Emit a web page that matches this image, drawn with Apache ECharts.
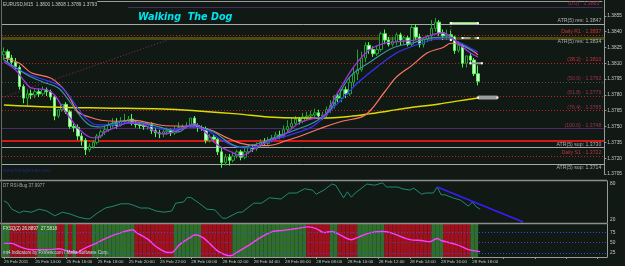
<!DOCTYPE html>
<html><head><meta charset="utf-8">
<script src="https://cdn.jsdelivr.net/npm/echarts@6/dist/echarts.min.js"></script>
<style>html,body{margin:0;padding:0;background:#111915;}#c{width:625px;height:266px;}</style>
</head><body><div id="c"></div>
<script>
// ---------- DATA ----------
const timeLabels = ['25 Feb 2011','25 Feb 14:00','25 Feb 16:00','25 Feb 18:00','25 Feb 20:00','25 Feb 22:00','28 Feb 00:00','28 Feb 02:00','28 Feb 04:00','28 Feb 06:00','28 Feb 08:00','28 Feb 10:00','28 Feb 12:00','28 Feb 14:00','28 Feb 16:00','28 Feb 18:00'];
const barsPerLabel = 8;
const slotCount = 155;

const opens = [
1.3818,1.3821,1.3815,1.3811,1.3806,1.3788,1.3777,1.3781,1.3780,1.3783,
1.3781,1.3785,1.3783,1.3778,1.3760,1.3766,1.3771,1.3764,1.3750,1.3749,
1.3741,1.3737,1.3728,1.3731,1.3735,1.3741,1.3745,1.3747,1.3751,1.3753,
1.3751,1.3755,1.3756,1.3757,1.3753,1.3752,1.3751,1.3750,1.3752,1.3746,
1.3744,1.3743,1.3745,1.3746,1.3744,1.3747,1.3749,1.3750,1.3751,1.3758,
1.3751,1.3749,1.3748,1.3737,1.3740,1.3738,1.3726,1.3716,1.3721,1.3718,
1.3722,1.3726,1.3721,1.3726,1.3730,1.3729,1.3732,1.3735,1.3734,1.3737,
1.3739,1.3742,1.3741,1.3747,1.3750,1.3753,1.3757,1.3755,1.3759,1.3760,
1.3761,1.3763,1.3760,1.3761,1.3766,1.3770,1.3779,1.3777,1.3785,1.3781,
1.3792,1.3800,1.3804,1.3815,1.3827,1.3823,1.3819,1.3823,1.3838,1.3832,
1.3828,1.3831,1.3837,1.3832,1.3834,1.3828,1.3844,1.3835,1.3828,1.3833,
1.3836,1.3843,1.3849,1.3839,1.3836,1.3837,1.3835,1.3822,1.3827,1.3810,
1.3817,1.3813,1.3800];
const highs = [
1.3825,1.3823,1.3818,1.3815,1.3808,1.3790,1.3785,1.3785,1.3786,1.3786,
1.3788,1.3787,1.3785,1.3780,1.3766,1.3771,1.3773,1.3766,1.3753,1.3752,
1.3744,1.3739,1.3734,1.3737,1.3743,1.3747,1.3751,1.3754,1.3758,1.3758,
1.3759,1.3762,1.3760,1.3762,1.3756,1.3754,1.3753,1.3754,1.3754,1.3749,
1.3747,1.3748,1.3749,1.3748,1.3750,1.3754,1.3752,1.3754,1.3758,1.3760,
1.3753,1.3751,1.3750,1.3743,1.3743,1.3739,1.3730,1.3724,1.3724,1.3726,
1.3728,1.3728,1.3730,1.3733,1.3733,1.3735,1.3738,1.3739,1.3740,1.3742,
1.3745,1.3746,1.3751,1.3756,1.3758,1.3760,1.3759,1.3763,1.3764,1.3765,
1.3767,1.3766,1.3764,1.3769,1.3775,1.3780,1.3781,1.3785,1.3788,1.3796,
1.3806,1.3823,1.3821,1.3830,1.3830,1.3826,1.3827,1.3840,1.3842,1.3835,
1.3835,1.3839,1.3839,1.3836,1.3836,1.3846,1.3847,1.3838,1.3835,1.3837,
1.3851,1.3853,1.3851,1.3842,1.3842,1.3841,1.3836,1.3831,1.3829,1.3817,
1.3820,1.3815,1.3808];
const lows = [
1.3813,1.3811,1.3807,1.3804,1.3785,1.3772,1.3769,1.3776,1.3777,1.3778,
1.3779,1.3779,1.3775,1.3756,1.3758,1.3764,1.3762,1.3748,1.3745,1.3737,
1.3732,1.3723,1.3726,1.3729,1.3733,1.3739,1.3742,1.3745,1.3749,1.3748,
1.3750,1.3752,1.3753,1.3751,1.3749,1.3748,1.3747,1.3747,1.3743,1.3740,
1.3739,1.3740,1.3742,1.3741,1.3742,1.3745,1.3747,1.3748,1.3749,1.3751,
1.3745,1.3746,1.3734,1.3735,1.3735,1.3723,1.3711,1.3713,1.3713,1.3716,
1.3720,1.3718,1.3719,1.3724,1.3726,1.3727,1.3730,1.3732,1.3732,1.3735,
1.3737,1.3738,1.3739,1.3745,1.3748,1.3751,1.3752,1.3753,1.3756,1.3757,
1.3757,1.3757,1.3756,1.3758,1.3763,1.3767,1.3773,1.3773,1.3777,1.3779,
1.3788,1.3794,1.3802,1.3811,1.3819,1.3816,1.3817,1.3821,1.3828,1.3826,
1.3826,1.3827,1.3827,1.3828,1.3826,1.3826,1.3832,1.3825,1.3825,1.3830,
1.3831,1.3840,1.3836,1.3832,1.3832,1.3832,1.3819,1.3820,1.3806,1.3806,
1.3809,1.3798,1.3789];
const closes = [
1.3821,1.3815,1.3811,1.3807,1.3788,1.3777,1.3781,1.3780,1.3783,1.3781,
1.3785,1.3783,1.3778,1.3760,1.3766,1.3771,1.3764,1.3750,1.3749,1.3741,
1.3737,1.3728,1.3731,1.3735,1.3741,1.3745,1.3747,1.3751,1.3753,1.3751,
1.3755,1.3756,1.3757,1.3753,1.3752,1.3751,1.3750,1.3752,1.3746,1.3744,
1.3743,1.3745,1.3746,1.3744,1.3747,1.3749,1.3750,1.3751,1.3758,1.3751,
1.3749,1.3748,1.3737,1.3740,1.3738,1.3726,1.3716,1.3721,1.3718,1.3722,
1.3726,1.3721,1.3726,1.3730,1.3729,1.3732,1.3735,1.3734,1.3737,1.3739,
1.3742,1.3741,1.3747,1.3750,1.3753,1.3757,1.3755,1.3759,1.3760,1.3761,
1.3763,1.3760,1.3761,1.3766,1.3770,1.3779,1.3777,1.3785,1.3781,1.3792,
1.3800,1.3804,1.3815,1.3827,1.3823,1.3819,1.3823,1.3838,1.3832,1.3828,
1.3831,1.3837,1.3832,1.3834,1.3828,1.3844,1.3835,1.3828,1.3833,1.3836,
1.3843,1.3849,1.3839,1.3836,1.3837,1.3835,1.3822,1.3827,1.3810,1.3817,
1.3813,1.3800,1.3793];

// moving averages: [bar index, price]
const maYellow = [[0,1.37705],[12,1.37686],[25,1.37676],[41,1.37667],[50,1.37648],[60,1.3762],[68,1.37591],[76,1.37581],[82,1.37581],[89,1.37596],[94,1.3762],[99,1.37648],[104,1.37676],[112,1.37714],[117,1.37743],[122,1.37771]];
const maSalmon = [[0,1.3815],[4,1.3810],[7,1.3801],[12,1.3796],[15,1.3787],[17,1.3777],[19,1.3764],[22,1.3759],[25,1.3756],[29,1.3755],[33,1.3756],[38,1.3753],[41,1.3751],[48,1.3750],[53,1.3747],[57,1.3740],[61,1.3734],[65,1.3732],[68,1.3732],[73,1.3737],[77,1.3742],[82,1.3749],[87,1.3755],[93,1.3761],[98,1.3783],[101,1.3797],[105,1.3808],[109,1.3820],[113,1.3825],[115,1.3829],[118,1.3827],[121,1.3821],[122,1.3818]];
const maBlue = [[0,1.38131],[5,1.38017],[9,1.3796],[14,1.37894],[16,1.37828],[19,1.37676],[21,1.37581],[24,1.37515],[27,1.37515],[32,1.37534],[35,1.37534],[39,1.37487],[43,1.37468],[48,1.37496],[52,1.37468],[56,1.37373],[60,1.37306],[63,1.37297],[66,1.37325],[71,1.37392],[76,1.37449],[80,1.37515],[86,1.37724],[91,1.37913],[96,1.38065],[101,1.38198],[106,1.38273],[110,1.38321],[114,1.3834],[117,1.38302],[120,1.38245],[122,1.38207]];
const maTeal = [[0,1.38131],[6,1.37989],[10,1.37923],[14,1.37866],[17,1.37733],[19,1.37629],[22,1.37515],[25,1.37496],[28,1.37534],[32,1.37553],[37,1.37524],[41,1.37487],[45,1.37449],[48,1.37515],[54,1.37449],[58,1.37344],[61,1.37306],[66,1.37344],[70,1.37401],[75,1.37468],[80,1.37543],[84,1.3766],[89,1.3797],[95,1.38131],[100,1.38245],[105,1.38292],[110,1.3834],[114,1.38349],[117,1.38292],[121,1.38207]];
const maPurple = [[0,1.38112],[3,1.38036],[5,1.37942],[7,1.37866],[11,1.37847],[13,1.37799],[15,1.37686],[17,1.37581],[19,1.37487],[22,1.37401],[24,1.37392],[26,1.37449],[29,1.37496],[32,1.37534],[36,1.37515],[39,1.37449],[41,1.3743],[45,1.37468],[48,1.37515],[49,1.37524],[52,1.37439],[55,1.37325],[59,1.3725],[61,1.37221],[64,1.37278],[67,1.37344],[72,1.3742],[76,1.37534],[80,1.37581],[82,1.37591],[86,1.37828],[90,1.38065],[94,1.38226],[98,1.38292],[101,1.38302],[106,1.38321],[110,1.38368],[113,1.38387],[115,1.38349],[118,1.38254],[120,1.38198],[122,1.3816]];
const trendLine = [[0,1.3778],[46,1.3837]];

// horizontal levels in the price pane
const levelPrices = [1.3869,1.3863,1.3847,1.38365,1.3834,1.3810,1.3792,1.3779,1.3765,1.3748,1.3737,1.3730,1.3722,1.3714];
const levelNames = ['','(0.0) · 1.3863','ATR(5) res: 1.3847','Daily R1 · 1.3837','ATR(5) res: 1.3834','(38.2) · 1.3810','(50.0) · 1.3792','(61.8) · 1.3779','(76.4) · 1.3765','(100.0) · 1.3748','','ATR(5) sup: 1.3730','Daily S1 · 1.3722','ATR(5) sup: 1.3714'];
const boxPrices = [1.3847,1.3834,1.3793,1.3737,1.3730,1.3714];

// drawn objects
const segTop = [[115,1.3848],[122,1.3848]];
const segVert = [[115,1.3848],[115,1.3832]];
const segOlive = [[118,1.3834],[122,1.3834]];
const segMid = [[120,1.3810],[123,1.3810]];
const segLow = [[122,1.37775],[127,1.37775]];

// RSI pane
const rsiPoints = [[0,52],[1,48],[2,38],[4,32],[5,35],[7,33],[9,38],[11,35],[13,27],[15,33],[17,30],[19,25],[21,22],[22,22],[24,32],[26,40],[28,43],[30,47],[32,47],[33,45],[35,40],[37,40],[39,35],[41,33],[43,35],[44,48],[46,50],[47,58],[48,57],[50,48],[52,38],[54,37],[56,23],[57,23],[60,33],[61,33],[64,48],[66,48],[68,57],[71,55],[73,65],[75,65],[77,72],[79,70],[80,63],[82,70],[84,80],[85,78],[87,57],[88,67],[89,58],[90,65],[91,70],[93,80],[95,78],[97,82],[98,75],[101,75],[102,72],[104,70],[105,73],[107,63],[108,65],[110,65],[111,75],[112,62],[113,62],[115,57],[117,53],[119,43],[120,50],[121,42],[122,38]];
const rsiTrend = [[111,75],[133,16.7]];
const rsiTicks = [20,80];

// oscillator pane
const oscPoints = [[0,48],[2,48],[4,40],[7,33],[12,33],[14,35],[17,28],[19,26],[20,33],[24,50],[27,64],[31,77],[33,81],[34,74],[37,57],[39,40],[42,26],[43,26],[45,45],[48,64],[49,69],[51,62],[53,45],[55,28],[58,18],[60,28],[63,45],[66,64],[69,77],[71,79],[75,84],[78,88],[80,84],[82,74],[84,77],[86,69],[89,57],[91,64],[94,74],[97,77],[99,74],[104,57],[107,55],[109,52],[111,60],[112,55],[116,45],[119,33],[122,28]];
const oscStates = [1,1,0,0,0,0,0,0,0,1, 1,1,1,1,0,0,1,0,1,0, 0,0,0,1,1,1,1,1,1,1, 1,1,1,1,0,0,0,0,0,0, 0,0,0,0,1,1,1,1,1,1, 1,0,0,0,0,0,0,0,0,1, 1,1,1,1,1,1,1,1,1,1, 1,1,1,1,1,1,1,1,0,0, 0,0,0,0,1,1,0,0,0,0, 0,1,1,1,1,1,1,1,0,0, 0,0,0,0,0,0,0,0,0,0, 1,1,1,0,0,0,0,0,0,0, 1,1];
const oscLevels = [75,50,25];
const oscTicks = [75,50,25];

// ---------- BUILD ----------
const categories = [];
for (let i = 0; i < slotCount; i++) {
  const k = i / barsPerLabel;
  categories.push(Number.isInteger(k) && timeLabels[k] ? timeLabels[k] : '');
}
const candleData = opens.map((o, i) => [o, closes[i], lows[i], highs[i]]);
const last = opens.length - 1;
const FONT = 'Liberation Sans';
const DOT = [1, 2];

const levelStyles = [
  {color:'#9a9a9a', type:'solid', width:1, start:24},
  {color:'#4a2a66', type:'solid', width:1, start:32, lc:'#a03050'},
  {color:'#a8a8a8', type:'solid', width:1, lc:'#b0b0b0'},
  {color:'#c81e1e', type:DOT, width:1, lc:'#d03030'},
  {color:'#4a4a12', type:'solid', width:3, lc:'#b0b0b0', below:true},
  {color:'#c81e1e', type:DOT, width:1, lc:'#c03040'},
  {color:'#505050', type:DOT, width:1, lc:'#a03050'},
  {color:'#c81e1e', type:DOT, width:1, lc:'#a03050'},
  {color:'#c81e1e', type:DOT, width:1, lc:'#a03050'},
  {color:'#4c2a70', type:'solid', width:1, lc:'#a03050'},
  {color:'#d41818', type:'solid', width:2},
  {color:'#a8a8a8', type:'solid', width:1, lc:'#b0b0b0'},
  {color:'#c81e1e', type:DOT, width:1, lc:'#c03040'},
  {color:'#a8a8a8', type:'solid', width:1, lc:'#b0b0b0', below:true}
];
const boxStyles = [
  {bg:'#f0f000', fg:'#000'}, {bg:'#f0f000', fg:'#000'}, {bg:'#ffffff', fg:'#000'},
  {bg:'#e02020', fg:'#300'}, {bg:'#f0f000', fg:'#000'}, {bg:'#f0f000', fg:'#000'}
];

const levelMarks = levelPrices.map((p, i) => {
  const s = levelStyles[i];
  const label = levelNames[i] ? {show:true, formatter:levelNames[i], position: s.below ? 'insideEndBottom' : 'insideEndTop', color:s.lc, fontSize:5.2, fontFamily:FONT, distance:[3,1]} : {show:false};
  if (s.start !== undefined) {
    return [{coord:[s.start, p], lineStyle:{color:s.color, type:s.type, width:s.width}, label},
            {coord:[slotCount - 1, p]}];
  }
  return {yAxis:p, lineStyle:{color:s.color, type:s.type, width:s.width}, label};
});
const boxMarks = boxPrices.map((p, i) => ({
  yAxis:p, lineStyle:{opacity:0},
  label:{show:true, position:'end', formatter:p.toFixed(4), backgroundColor:boxStyles[i].bg, color:boxStyles[i].fg,
         fontSize:4.8, fontFamily:FONT, padding:[1,1,0,1], distance:2}
}));

function seg(data, color, width, type) {
  return {type:'line', xAxisIndex:0, yAxisIndex:0, data, showSymbol:true, symbol:'rect', symbolSize:2,
          itemStyle:{color:'#ffffff'}, lineStyle:{color, width, type:type||'solid'}, silent:true, z:6};
}
function ma(data, color, width) {
  return {type:'line', xAxisIndex:0, yAxisIndex:0, data, showSymbol:false, smooth:0.35,
          lineStyle:{color, width:width||1.2}, silent:true, z:4};
}

const grids = [
  {left:2, right:18, top:0, height:174},
  {left:2, right:18, top:181, height:42},
  {left:2, right:18, top:224, height:33}
];
const xAxes = grids.map((g, gi) => ({
  type:'category', gridIndex:gi, data:categories, boundaryGap:true,
  axisLine:{show: gi === 2, lineStyle:{color:'#9a9a9a'}},
  axisTick:{show: gi === 2, interval:barsPerLabel - 1, alignWithLabel:true, length:2, lineStyle:{color:'#9a9a9a'}},
  axisLabel:{show: gi === 2, interval:barsPerLabel - 1, align:'left', fontSize:4.4, fontFamily:FONT, color:'#c8c8c8', margin:3},
  splitLine:{show:false}
}));
const yAxes = [
  {type:'value', gridIndex:0, position:'right', min:1.3705, max:1.3870, interval:0.0015,
   axisLine:{show:true, lineStyle:{color:'#9a9a9a'}}, axisTick:{show:true, length:2, lineStyle:{color:'#9a9a9a'}},
   axisLabel:{fontSize:4.8, fontFamily:FONT, color:'#c8c8c8', margin:3, showMaxLabel:false, formatter:v => v.toFixed(4)},
   splitLine:{show:false}},
  {type:'value', gridIndex:1, position:'right', min:15, max:85, interval:5,
   axisLine:{show:true, lineStyle:{color:'#9a9a9a'}}, axisTick:{show:false},
   axisLabel:{fontSize:4.8, fontFamily:FONT, color:'#c8c8c8', margin:3, formatter:v => rsiTicks.includes(v) ? String(v) : ''},
   splitLine:{show:false}},
  {type:'value', gridIndex:2, position:'right', min:15, max:95, interval:5,
   axisLine:{show:true, lineStyle:{color:'#9a9a9a'}}, axisTick:{show:false},
   axisLabel:{fontSize:4.8, fontFamily:FONT, color:'#c8c8c8', margin:3, formatter:v => oscTicks.includes(v) ? String(v) : ''},
   splitLine:{show:false}}
];

const oscBars = oscStates.map(s => ({value:95, itemStyle:{color: s ? '#2f6e2b' : '#9e121d'}}));

const option = {
  animation:false,
  backgroundColor:'#111915',
  textStyle:{fontFamily:FONT},
  grid:grids, xAxis:xAxes, yAxis:yAxes,
  graphic:[
    {type:'line', shape:{x1:0, y1:180.5, x2:607, y2:180.5}, style:{stroke:'#8e8e8e', lineWidth:1.6}, z:10},
    {type:'line', shape:{x1:0, y1:223.5, x2:607, y2:223.5}, style:{stroke:'#8e8e8e', lineWidth:1.6}, z:10},
    {type:'line', shape:{x1:1.5, y1:0, x2:1.5, y2:257}, style:{stroke:'#6a6a6a', lineWidth:1}, z:10},
    {type:'text', left:3, top:2, z:11, style:{text:'EURUSD,M15  ' + [opens[last], highs[last], lows[last], closes[last]].map(v => v.toFixed(4)).join(' '), fill:'#c8c8c8', font:'4.7px "Liberation Sans"'}},
    {type:'text', left:138, top:12, z:11, style:{text:'Walking  The Dog', fill:'#00e4ee', font:'italic bold 9.6px "DejaVu Sans"', shadowColor:'#05403f', shadowOffsetX:1, shadowOffsetY:1, shadowBlur:0}},
    {type:'text', left:3, top:168, z:11, style:{text:'www.fxtrademan.com', fill:'#1e2a7a', font:'5px "Liberation Sans"'}},
    {type:'text', left:3, top:183, z:11, style:{text:'DT RSI-Bug 37.9977', fill:'#a8a8a8', font:'4.5px "Liberation Sans"'}},
    {type:'text', left:3, top:226.5, z:11, style:{text:'FXSQ(2) 26.8897  27.5818', fill:'#d8f0d8', font:'4.5px "Liberation Sans"'}},
    {type:'text', left:3, top:250.5, z:11, style:{text:'mt4 Indicators by FxView.com / Mafia Software Corp.', fill:'#d0d8d0', font:'4.5px "Liberation Sans"'}}
  ],
  series:[
    {type:'candlestick', xAxisIndex:0, yAxisIndex:0, data:candleData, barWidth:3, z:3,
     itemStyle:{color:'#0b1510', color0:'#eaffea', borderColor:'#22a33a', borderColor0:'#4cff4c', borderWidth:1},
     markLine:{silent:true, symbol:'none', precision:5, data:levelMarks.concat(boxMarks), z:2}},
    ma(maYellow, '#dcdc00', 1.4),
    ma(maSalmon, '#ff7565', 1.2),
    ma(maBlue, '#3434ff', 1.2),
    ma(maTeal, '#3b97a0', 1.1),
    ma(maPurple, '#a232e0', 1.3),
    {type:'line', xAxisIndex:0, yAxisIndex:0, data:trendLine, showSymbol:false, lineStyle:{color:'#8a2a55', width:1, type:DOT}, silent:true, z:2},
    seg(segTop, '#b8f8a8', 2),
    seg(segVert, '#30b030', 1, DOT),
    seg(segOlive, '#9a9a80', 2, 'dashed'),
    seg(segMid, '#9a9a9a', 2),
    seg(segLow, '#9c9c9c', 4),
    {type:'line', xAxisIndex:1, yAxisIndex:1, data:rsiPoints, showSymbol:false, lineStyle:{color:'#1f8a72', width:1}, silent:true},
    {type:'line', xAxisIndex:1, yAxisIndex:1, data:rsiTrend, showSymbol:false, lineStyle:{color:'#3a1cff', width:1.4}, silent:true},
    {type:'bar', xAxisIndex:2, yAxisIndex:2, data:oscBars, barWidth:'100%', barGap:'0%', barCategoryGap:'0%', silent:true, z:1},
    {type:'line', xAxisIndex:2, yAxisIndex:2, data:oscPoints, showSymbol:false, smooth:0.3, lineStyle:{color:'#ff3cff', width:1.4}, silent:true, z:4,
     markLine:{silent:true, symbol:'none', label:{show:false},
       data:oscLevels.map((v, i) => ({yAxis:v, lineStyle:{color: i === 1 ? '#5a3ab0' : '#2f4cf0', type:DOT, width:1}}))}}
  ]
};
const chart = echarts.init(document.getElementById('c'), null, {renderer:'canvas'});
chart.setOption(option);
</script>
</body></html>
